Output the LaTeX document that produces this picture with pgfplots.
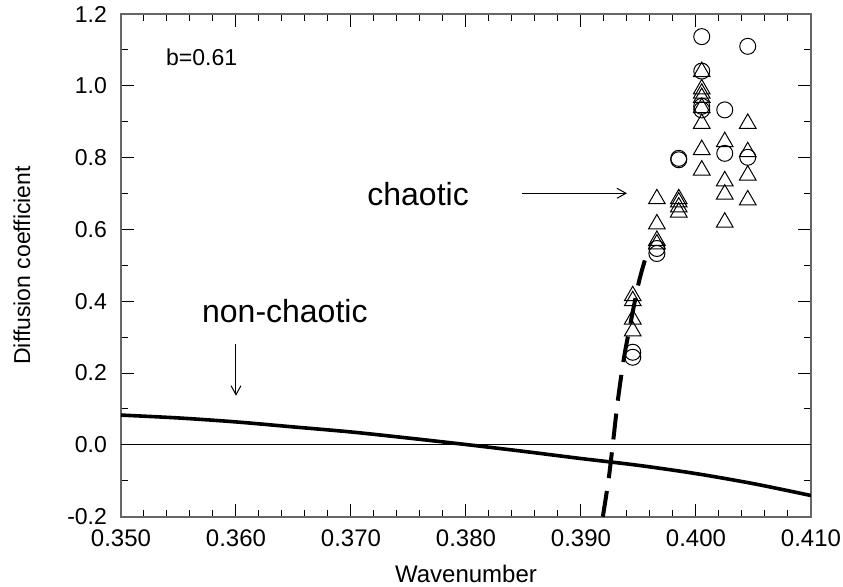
\documentclass[border=0pt]{standalone}
\usepackage{fontspec}
\setmainfont{Liberation Sans}
\usepackage{pgfplots}
\pgfplotsset{compat=1.18}
\usetikzlibrary{arrows.meta}
\begin{document}
\fontsize{11.5}{13.8}\selectfont
\begin{tikzpicture}
\begin{axis}[
  at={(0,0)}, anchor=south west,
  scale only axis, width=345pt, height=251.35pt,
  xmin=0.35, xmax=0.41, ymin=-0.2, ymax=1.2,
  xtick={0.35,0.36,0.37,0.38,0.39,0.40,0.41},
  xticklabels={0.350,0.360,0.370,0.380,0.390,0.400,0.410},
  ytick={-0.2,0,0.2,0.4,0.6,0.8,1.0,1.2},
  yticklabels={-0.2,0.0,0.2,0.4,0.6,0.8,1.0,1.2},
  minor x tick num=4, minor y tick num=1,
  major tick length=6.5pt, minor tick length=3.4pt,
  tick style={black, line width=0.5pt},
  axis line style={black!60, line width=0.9pt},
  yticklabel style={font=\fontsize{11.5}{13.8}\selectfont, xshift=-3pt},
  xticklabel style={font=\fontsize{12}{14.4}\selectfont, yshift=-2.5pt},
  xlabel={Wavenumber}, ylabel={Diffusion coefficient},
  xlabel style={font=\fontsize{12}{14.4}\selectfont, at={(axis description cs:0.5,0)}, anchor=base, yshift=-32.8pt},
  ylabel style={font=\fontsize{11.5}{13.8}\selectfont, at={(axis description cs:-0.1435,0.5)}, anchor=center},
]
% zero line
\addplot[black, line width=0.5pt] coordinates {(0.35,0) (0.41,0)};
% non-chaotic curve
\addplot[black, line width=1.8pt, smooth] coordinates {
(0.350,0.083) (0.355,0.075) (0.360,0.064) (0.365,0.050) (0.370,0.036)
(0.375,0.019) (0.380,0.001) (0.385,-0.018) (0.390,-0.038) (0.395,-0.057)
(0.400,-0.080) (0.405,-0.108) (0.410,-0.141)};
% chaotic dashed curve
\addplot[black, line width=2pt, dash pattern=on 13pt off 6.5pt, smooth] coordinates {
(0.3919,-0.2) (0.3924,-0.096) (0.3928,0.011) (0.3932,0.123) (0.3937,0.235)
(0.3941,0.305) (0.3950,0.449) (0.3956,0.519)};
% circles
\addplot[only marks, mark=o, mark size=4pt, mark options={line width=0.5pt}] coordinates {
(0.4005,1.137) (0.4045,1.110) (0.4005,1.041) (0.4005,0.943) (0.4005,0.933)
(0.4025,0.933) (0.3985,0.798) (0.3985,0.794) (0.4025,0.812) (0.4045,0.801)
(0.3966,0.547) (0.3966,0.533) (0.3945,0.258) (0.3945,0.244)};
% triangles
\addplot[only marks, mark=triangle, mark size=4.8pt, mark options={line width=0.5pt}] coordinates {
(0.3945,0.415) (0.3945,0.401) (0.3945,0.350) (0.3945,0.317)
(0.3966,0.685) (0.3966,0.615) (0.3966,0.569) (0.3966,0.559)
(0.3985,0.685) (0.3985,0.676) (0.3985,0.662) (0.3985,0.648)
(0.4005,1.039) (0.4005,0.991) (0.4005,0.979) (0.4005,0.967) (0.4005,0.939)
(0.4005,0.895) (0.4005,0.822) (0.4005,0.765)
(0.4025,0.844) (0.4025,0.735) (0.4025,0.698) (0.4025,0.620)
(0.4045,0.895) (0.4045,0.816) (0.4045,0.751) (0.4045,0.682)};
% annotations
\node[anchor=base west, inner sep=0pt, font=\fontsize{11.5}{13.8}\selectfont] at (axis cs:0.35389,1.0565) {b=0.61};
\node[anchor=base west, inner sep=0pt, font=\fontsize{16}{19}\selectfont] at (axis cs:0.37139,0.668) {chaotic};
\node[anchor=base west, inner sep=0pt, font=\fontsize{16}{19}\selectfont] at (axis cs:0.35702,0.3418) {non-chaotic};
\draw[-{Straight Barb[length=4.5pt,width=5pt]}, line width=0.5pt] (axis cs:0.38487,0.7007) -- (axis cs:0.3940,0.7007);
\draw[-{Straight Barb[length=4.5pt,width=5pt]}, line width=0.5pt] (axis cs:0.360,0.2814) -- (axis cs:0.360,0.137);
\end{axis}
\pgfresetboundingbox
\path[use as bounding box] (-60.5pt,-34.65pt) rectangle (361pt,258.35pt);
\end{tikzpicture}
\end{document}
